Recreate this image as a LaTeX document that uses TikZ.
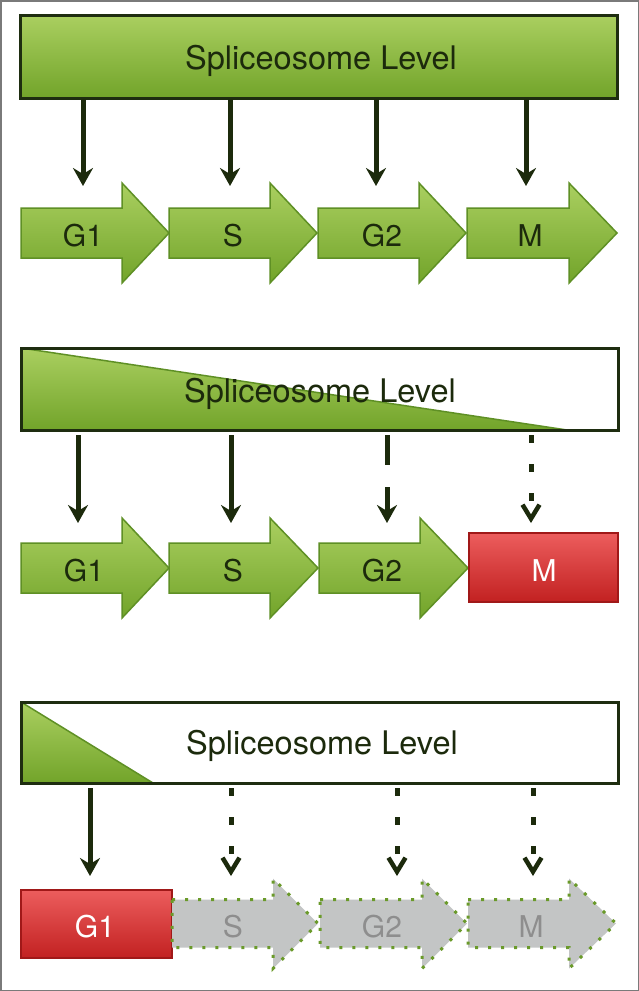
\documentclass[tikz,border=0pt]{standalone}
\usepackage{fontspec}
\setmainfont{TeX Gyre Heros}
\usetikzlibrary{arrows.meta}
\definecolor{gtop}{HTML}{AACF60}
\definecolor{gbot}{HTML}{72A42A}
\definecolor{gedge}{HTML}{5F9025}
\definecolor{dotgreen}{HTML}{6A9A2A}
\definecolor{dark}{HTML}{1C2A0C}
\definecolor{boxedge}{HTML}{1E2D10}
\definecolor{rtop}{HTML}{EC5D5D}
\definecolor{rbot}{HTML}{C22121}
\definecolor{redge}{HTML}{A01818}
\definecolor{gray1}{HTML}{C3C5C5}
\definecolor{graytxt}{HTML}{8E8E8E}
\definecolor{frame}{HTML}{7A7A7A}
\tikzset{
  greenchev/.style={top color=gtop, bottom color=gbot, draw=gedge, line width=1.5pt, line join=miter},
  graychev/.style={fill=gray1, draw=dotgreen, line width=3pt, dash pattern=on 3pt off 10pt},
  redbox/.style={top color=rtop, bottom color=rbot, draw=redge, line width=1.5pt, inner sep=0pt},
  titlebox/.style={draw=boxedge, line width=3pt, inner sep=0pt, minimum width=597pt},
  titletxt/.style={font=\fontsize{32.5}{36}\selectfont, text=dark, anchor=base, inner sep=0pt},
  lbl/.style={font=\fontsize{30}{34}\selectfont, text=dark, anchor=base, inner sep=0pt},
  wlbl/.style={font=\fontsize{30}{34}\selectfont, text=white, anchor=base, inner sep=0pt},
  glbl/.style={font=\fontsize{30}{34}\selectfont, text=graytxt, anchor=base, inner sep=0pt},
  conn/.style={draw=dark, line width=5pt, -{Stealth[width=20pt,length=18pt,inset=6pt]}},
  dashconn/.style={conn, dash pattern=on 30pt off 22pt},
  dotconn/.style={draw=dark, line width=5pt, dash pattern=on 8pt off 21pt,
    -{Straight Barb[width=17pt,length=14pt,line width=4.5pt]}},
}
% style, x0, yc, length, head base, half body, half head
\newcommand{\chev}[7]{%
  \path[#1] (#2,#3-#6) -- (#2+#5,#3-#6) -- (#2+#5,#3-#7) -- (#2+#4,#3)
    -- (#2+#5,#3+#7) -- (#2+#5,#3+#6) -- (#2,#3+#6) -- cycle;}
\begin{document}
\begin{tikzpicture}[x=1pt,y=-1pt]
\useasboundingbox (0,0) rectangle (639,991);
\fill[white] (0,0) rectangle (639,991);
\draw[frame, line width=1.5pt] (0.75,0.75) rectangle (638.25,990.25);

% ---------------- Panel 1 ----------------
\fill[top color=gtop, bottom color=gbot] (21,15) rectangle (617,98);
\node[titlebox, minimum height=83pt] (box1) at (319,56.5) {};
\node[titletxt] (t1) at (321,69) {Spliceosome Level};

\chev{greenchev}{21}{233}{148}{101}{25}{50}
\chev{greenchev}{169}{233}{148}{101}{25}{50}
\chev{greenchev}{318}{233}{148}{101}{25}{50}
\chev{greenchev}{467}{233}{150}{102}{25}{50}
\node[lbl] (a1) at (83,246) {G1};
\node[lbl] (a2) at (233,246) {S};
\node[lbl] (a3) at (382,246) {G2};
\node[lbl] (a4) at (530,246) {M};

\coordinate (p1s1) at (83,99);  \coordinate (p1e1) at (83,186);
\coordinate (p1s2) at (230,99); \coordinate (p1e2) at (230,186);
\coordinate (p1s3) at (376,99); \coordinate (p1e3) at (376,186);
\coordinate (p1s4) at (526,99); \coordinate (p1e4) at (526,186);
\draw[conn] (p1s1) -- (p1e1);
\draw[conn] (p1s2) -- (p1e2);
\draw[conn] (p1s3) -- (p1e3);
\draw[conn] (p1s4) -- (p1e4);

% ---------------- Panel 2 ----------------
\path[top color=gtop, bottom color=gbot] (21,348) -- (567,430) -- (21,430) -- cycle;
\draw[gedge, line width=1.5pt] (21,348) -- (567,430);
\node[titlebox, minimum height=82pt] (box2) at (319.5,389) {};
\node[titletxt] (t2) at (320,402) {Spliceosome Level};

\chev{greenchev}{21}{568}{148}{101}{25}{50}
\chev{greenchev}{169}{568}{149}{101}{25}{50}
\chev{greenchev}{319}{568}{149}{101}{25}{50}
\node[redbox, minimum width=149pt, minimum height=69pt] (m2) at (543.5,567.5) {};
\node[lbl] (b1) at (84,581) {G1};
\node[lbl] (b2) at (233,581) {S};
\node[lbl] (b3) at (382,581) {G2};
\node[wlbl] (b4) at (544,581) {M};

\coordinate (p2s1) at (78,435);  \coordinate (p2e1) at (78,523);
\coordinate (p2s2) at (231,435); \coordinate (p2e2) at (231,523);
\coordinate (p2s3) at (387,435); \coordinate (p2e3) at (387,523);
\coordinate (p2s4) at (531,435); \coordinate (p2e4) at (531,523);
\draw[conn] (p2s1) -- (p2e1);
\draw[conn] (p2s2) -- (p2e2);
\draw[dashconn] (p2s3) -- (p2e3);
\draw[dotconn] (p2s4) -- (p2e4);

% ---------------- Panel 3 ----------------
\path[top color=gtop, bottom color=gbot] (21,702) -- (153,783) -- (21,783) -- cycle;
\draw[gedge, line width=1.5pt] (21,702) -- (153,783);
\node[titlebox, minimum height=81pt] (box3) at (319.5,742.5) {};
\node[titletxt] (t3) at (322,754) {Spliceosome Level};

\node[redbox, minimum width=151pt, minimum height=68pt] (g3) at (96.5,924) {};
\chev{graychev}{172}{923.5}{146}{101}{24}{45}
\chev{graychev}{320}{923.5}{147}{102}{24}{45}
\chev{graychev}{468}{923.5}{148}{101}{24}{45}
\node[wlbl] (c1) at (95,937) {G1};
\node[glbl] (c2) at (233,937) {S};
\node[glbl] (c3) at (382,937) {G2};
\node[glbl] (c4) at (531,937) {M};

\coordinate (p3s1) at (90,788);  \coordinate (p3e1) at (90,876);
\coordinate (p3s2) at (231,788); \coordinate (p3e2) at (231,876);
\coordinate (p3s3) at (397,788); \coordinate (p3e3) at (397,876);
\coordinate (p3s4) at (533,788); \coordinate (p3e4) at (533,876);
\draw[conn] (p3s1) -- (p3e1);
\draw[dotconn] (p3s2) -- (p3e2);
\draw[dotconn] (p3s3) -- (p3e3);
\draw[dotconn] (p3s4) -- (p3e4);
\end{tikzpicture}
\end{document}
